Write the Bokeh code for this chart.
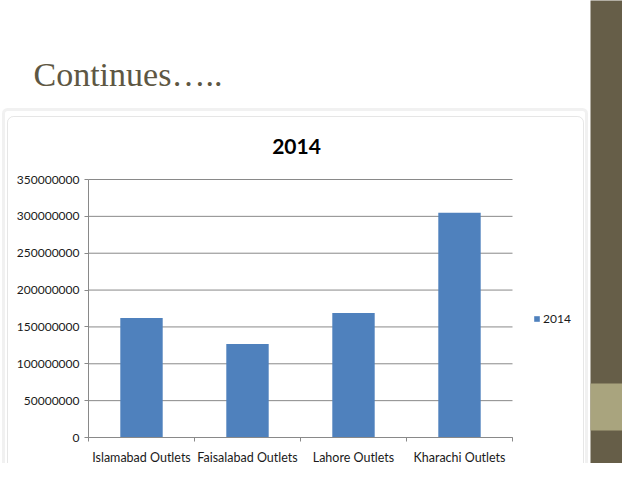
from bokeh.plotting import figure
from bokeh.models import (Range1d, FixedTicker, BoxAnnotation, Label, Legend, LegendItem,
                          LinearAxis)
from bokeh.embed import file_html
from bokeh.resources import INLINE

# ---- data ----
slide_title = "Continues….."
chart_title = "2014"
series_name = "2014"
categories = ["Islamabad Outlets", "Faisalabad Outlets", "Lahore Outlets", "Kharachi Outlets"]
values = [162000000, 127000000, 169000000, 305000000]
y_ticks = [0, 50000000, 100000000, 150000000, 200000000, 250000000, 300000000, 350000000]

# ---- styles ----
BAR = "#4F81BD"
GRID = "#898989"
DARK = "#665E48"
LIGHT = "#A9A47E"
TITLE_C = "#5E5743"
TXT = "#1a1a1a"

W, H = 622, 463
# plot area of the chart, in canvas pixels
PL, PR, PT, PB = 88, 512, 179, 437
YMAX = y_ticks[-1]
n = len(categories)

cat_px = (PR - PL) / n
val_px = (PB - PT) / YMAX

p = figure(width=W, height=H, output_backend="svg", toolbar_location=None,
           x_range=Range1d(0, W), y_range=Range1d(H, 0),
           x_axis_location=None, y_axis_location=None, min_border=0,
           background_fill_color="white", border_fill_color="white")
p.outline_line_color = None
p.grid.visible = False

p.extra_x_ranges = {"cx": Range1d(-PL / cat_px, n + (W - PR) / cat_px)}
p.extra_y_ranges = {"cy": Range1d(-(H - PB) / val_px, YMAX + PT / val_px)}

# ---- slide decoration ----
p.quad(left=590, right=660, top=-10, bottom=500, fill_color=DARK, line_color=None)
p.quad(left=590, right=660, top=383, bottom=430, fill_color=LIGHT, line_color=None)

p.add_layout(BoxAnnotation(left=3, right=586, top=109, bottom=477,
                           fill_alpha=0, line_color="#D2D2D2", line_width=3,
                           border_radius=4, level="underlay"))
p.add_layout(BoxAnnotation(left=7, right=583, top=116, bottom=474,
                           fill_alpha=0, line_color="#ABABAB", line_width=1,
                           border_radius=6, level="underlay"))

p.add_layout(Label(x=33, y=74, text=slide_title, text_font="Liberation Serif",
                   text_font_size="34px", text_color=TITLE_C,
                   text_baseline="alphabetic", text_align="left"))

p.add_layout(Label(x=296, y=146, text=chart_title, text_font="Lato", text_font_size="21px",
                   text_font_style="bold", text_color="#000000",
                   text_baseline="middle", text_align="center"))

# ---- chart ----
xs = [i + 0.5 for i in range(n)]

p.segment(x0=0, x1=n, y0=y_ticks, y1=y_ticks, x_range_name="cx", y_range_name="cy",
          line_color=GRID, line_width=1)

r = p.vbar(x=xs, top=values, width=0.4, bottom=0, x_range_name="cx", y_range_name="cy",
           fill_color=BAR, line_color=None)

ya = LinearAxis(y_range_name="cy", fixed_location=PL, bounds=(0, YMAX),
                ticker=FixedTicker(ticks=y_ticks))
ya.formatter.use_scientific = False
ya.minor_tick_line_color = None
ya.major_tick_out = 4
ya.major_tick_in = 0
ya.major_tick_line_color = GRID
ya.axis_line_color = GRID
ya.major_label_text_font = "Lato"
ya.major_label_text_font_size = "12px"
ya.major_label_text_color = TXT
ya.major_label_standoff = 5
p.add_layout(ya, "left")

xa = LinearAxis(x_range_name="cx", fixed_location=PB, bounds=(0, n),
                ticker=FixedTicker(ticks=xs, minor_ticks=list(range(n + 1))))
xa.major_label_overrides = {x: c for x, c in zip(xs, categories)}
xa.major_tick_out = 0
xa.major_tick_in = 0
xa.minor_tick_out = 4
xa.minor_tick_in = 0
xa.minor_tick_line_color = GRID
xa.axis_line_color = GRID
xa.major_label_text_font = "Lato"
xa.major_label_text_font_size = "12.5px"
xa.major_label_text_color = TXT
xa.major_label_standoff = 8
p.add_layout(xa, "below")

legend = Legend(items=[LegendItem(label=series_name, renderers=[r])],
                location=(533, H - 326), orientation="vertical",
                glyph_width=7, glyph_height=7, label_standoff=3, padding=0, margin=0,
                spacing=0, border_line_color=None, background_fill_alpha=0,
                label_text_font="Lato", label_text_font_size="12px",
                label_text_color=TXT, label_height=14)
p.add_layout(legend, "center")

open("out.html", "w").write(file_html(p, INLINE))
